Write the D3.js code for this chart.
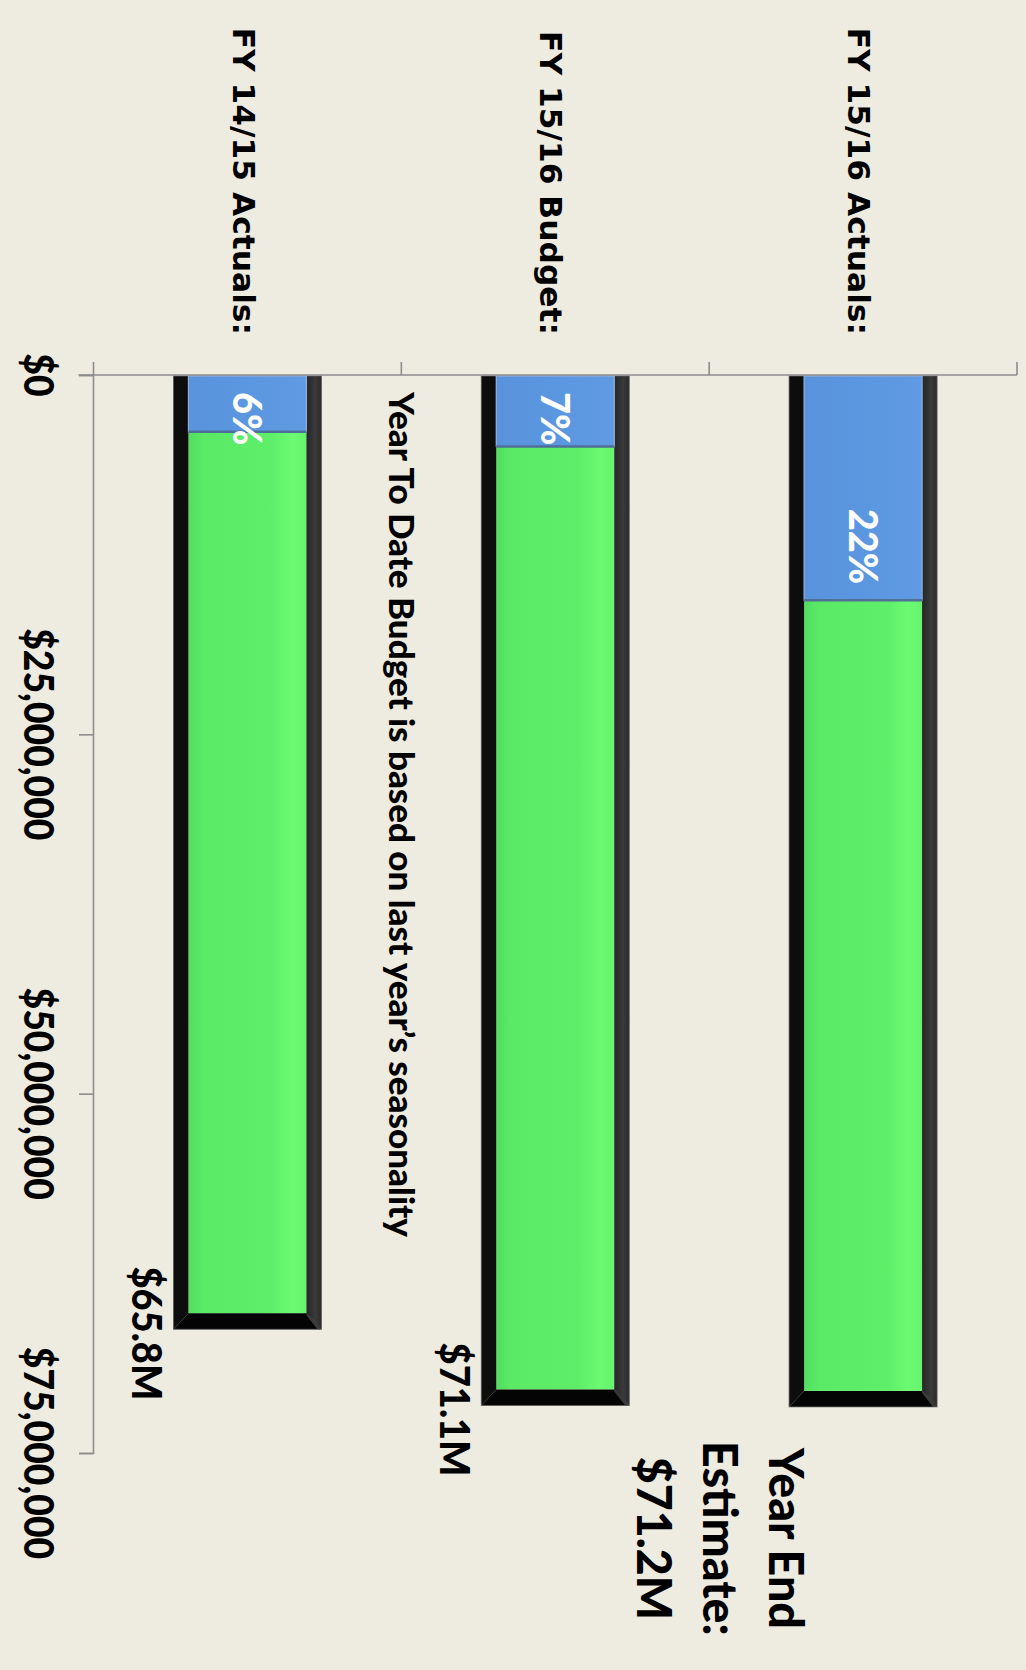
<!DOCTYPE html>
<html>
<head>
<meta charset="utf-8">
<script src="https://cdn.jsdelivr.net/npm/d3@7/dist/d3.min.js"></script>
<style>
  html, body { margin: 0; padding: 0; background: #eeece1; }
  svg { display: block; }
</style>
</head>
<body>
<svg id="chart" width="1026" height="1670"></svg>
<script>
// ---------- data ----------
const categories = ["FY 14/15 Actuals:", "FY 15/16 Budget:", "FY 15/16 Actuals:"];
const totals = [65.8e6, 71.1e6, 71.2e6];
const ytdPercent = [6, 7, 22];
const valueLabels = ["$65.8M", "$71.1M", null];
const tickValues = [0, 25e6, 50e6, 75e6];
const tickLabels = ["$0", "$25,000,000", "$50,000,000", "$75,000,000"];
const estimateLines = ["Year End", "Estimate:", "$71.2M"];
const noteText = "Year To Date Budget is based on last year\u2019s seasonality";

// ---------- setup ----------
const W = 1026, H = 1670;
const svg = d3.select("#chart");
svg.append("rect").attr("width", W).attr("height", H).attr("fill", "#eeece1");

const calibriLike = "Lato, 'Open Sans', sans-serif";
const heavy = 900;
const y = d3.scaleLinear().domain([0, 75e6]).range([375, 1453]);
const x = d3.scaleBand().domain(categories).range([93.5, 1017])
  .paddingInner(0.568).paddingOuter(0.284);
const bw = x.bandwidth();
const y0 = y(0);
const sw = 15; // frame thickness

const defs = svg.append("defs");
const gg = defs.append("linearGradient").attr("id", "greenGrad")
  .attr("x1", "0").attr("x2", "1").attr("y1", "0").attr("y2", "0");
[["0%", "#52dc5e"], ["12%", "#5aea66"], ["70%", "#5eee69"], ["88%", "#6bfa71"], ["100%", "#64f36c"]]
  .forEach(([o, c]) => gg.append("stop").attr("offset", o).attr("stop-color", c));
const rg = defs.append("linearGradient").attr("id", "rightGrad")
  .attr("x1", "0").attr("x2", "1").attr("y1", "0").attr("y2", "0");
[["0%", "#262626"], ["60%", "#3a3a3a"], ["100%", "#2a2a2a"]]
  .forEach(([o, c]) => rg.append("stop").attr("offset", o).attr("stop-color", c));
const bg = defs.append("linearGradient").attr("id", "blueGrad")
  .attr("x1", "0").attr("x2", "1").attr("y1", "0").attr("y2", "0");
[["0%", "#5893dc"], ["50%", "#5b97e0"], ["100%", "#5f9ae2"]]
  .forEach(([o, c]) => bg.append("stop").attr("offset", o).attr("stop-color", c));

const data = categories.map((c, i) => ({
  cat: c, total: totals[i], pct: ytdPercent[i], label: valueLabels[i]
}));

// ---------- bars ----------
const bars = svg.append("g").selectAll("g").data(data).join("g");
bars.each(function(d) {
  const g = d3.select(this);
  const bx = x(d.cat), ye = y(d.total);
  const xo0 = bx - sw / 2, xo1 = bx + bw + sw / 2, yo1 = ye + sw / 2 + 1;
  const xi0 = bx + sw / 2, xi1 = bx + bw - sw / 2, yi1 = ye - sw / 2;
  const top = y0 + 1;
  g.append("rect").attr("x", xi0).attr("y", top).attr("width", xi1 - xi0)
    .attr("height", yi1 - top).attr("fill", "url(#greenGrad)");
  g.append("polygon").attr("points", [[xo0, top], [xi0, top], [xi0, yi1], [xo0, yo1]].join(" "))
    .attr("fill", "#0d0d0d");
  g.append("polygon").attr("points", [[xi1, top], [xo1, top], [xo1, yo1], [xi1, yi1]].join(" "))
    .attr("fill", "url(#rightGrad)");
  g.append("polygon").attr("points", [[xo0, yo1], [xi0, yi1], [xi1, yi1], [xo1, yo1]].join(" "))
    .attr("fill", "#040404");
  g.append("polygon").attr("points", [[xi1, yi1], [xo1, yo1], [xo1 - 4, yo1], [xi1, yi1 + 2]].join(" "))
    .attr("fill", "#3a3a3a");
  g.append("rect").attr("x", xo0).attr("y", top).attr("width", xo1 - xo0)
    .attr("height", yo1 - top).attr("fill", "none").attr("stroke", "#5a5a5a").attr("stroke-width", 0.8);
  const ys = y(d.total * d.pct / 100);
  g.append("rect").attr("x", xi0).attr("y", top).attr("width", xi1 - xi0)
    .attr("height", ys - top).attr("fill", "url(#blueGrad)")
    .attr("stroke", "#8fb0dd").attr("stroke-width", 1.2);
  g.append("line").attr("x1", xi0).attr("x2", xi1).attr("y1", ys).attr("y2", ys)
    .attr("stroke", "#4f6f98").attr("stroke-width", 2.5);
  d.ys = ys; d.ye = ye; d.bx = bx; d.xo0 = xo0; d.yo1 = yo1;
});

// ---------- axes ----------
const yAxis = d3.axisLeft(y).tickValues(tickValues).tickSize(14).tickFormat("");
const axG = svg.append("g").attr("transform", `translate(${x.range()[0] - 0.5},0)`).call(yAxis);
axG.select(".domain").attr("stroke", "#8c8c8c").attr("stroke-width", 1.6);
axG.selectAll(".tick line").attr("stroke", "#8c8c8c").attr("stroke-width", 1.6);

const step = x.step();
const edges = [x.range()[0]].concat(categories.map(c => x(c) + bw + (step - bw) / 2));
svg.append("line").attr("x1", x.range()[0] - 15).attr("x2", x.range()[1])
  .attr("y1", y0).attr("y2", y0).attr("stroke", "#8c8c8c").attr("stroke-width", 1.6);
svg.selectAll(".ctick").data(edges).join("line").attr("class", "ctick")
  .attr("x1", d => d).attr("x2", d => d).attr("y1", y0).attr("y2", y0 - 13)
  .attr("stroke", "#8c8c8c").attr("stroke-width", 1.6);

function rtext(parent, cx, cy, txt, opts) {
  const k = opts.k || 1;
  return parent.append("text")
    .attr("transform", `translate(${cx},${cy}) rotate(90) scale(${k},1)`)
    .attr("text-anchor", opts.anchor || "middle")
    .attr("dy", opts.dy || "0.35em")
    .attr("font-family", opts.family || calibriLike)
    .attr("font-weight", opts.weight || heavy)
    .attr("font-size", opts.size)
    .attr("fill", opts.fill || "#000")
    .text(txt);
}

// tick labels
const tl = svg.append("g");
tickValues.forEach((v, i) => rtext(tl, 38, y(v), tickLabels[i], { size: 41, k: 0.91 }));

// category labels
const cl = svg.append("g");
categories.forEach(c => rtext(cl, x(c) + bw / 2 - 4, 335, c,
  { size: 31, anchor: "end", weight: 700, k: 1.01, family: "'DejaVu Sans', Verdana, sans-serif" }));

// value labels at bar end
const vl = svg.append("g");
data.filter(d => d.label).forEach(d => rtext(vl, d.xo0 - 27, d.yo1 + 4, d.label, { size: 41, k: 0.93 }));

// percent labels
const pl = svg.append("g");
data.forEach(d => {
  const k = 0.95;
  const t = rtext(pl, d.bx + bw / 2, 0, d.pct + "%", { size: 40, k: k, anchor: "start", fill: "#ffffff" });
  const len = t.node().getComputedTextLength() * k;
  const start = Math.max(y0 + 17, d.ys - 16 - len);
  t.attr("transform", `translate(${d.bx + bw / 2},${start}) rotate(90) scale(${k},1)`);
});

// note text between bars 1 and 2
rtext(svg, (x(categories[0]) + bw + x(categories[1])) / 2, y0 + 17, noteText,
  { size: 35, anchor: "start", k: 1 });

// year end estimate
const d3b = data[2];
const eg = svg.append("g");
estimateLines.forEach((s, i) => {
  rtext(eg, d3b.bx + bw / 2 - 77 - i * 66, d3b.ye + 140, s, { size: 48, k: 0.97 });
});
</script>
</body>
</html>
